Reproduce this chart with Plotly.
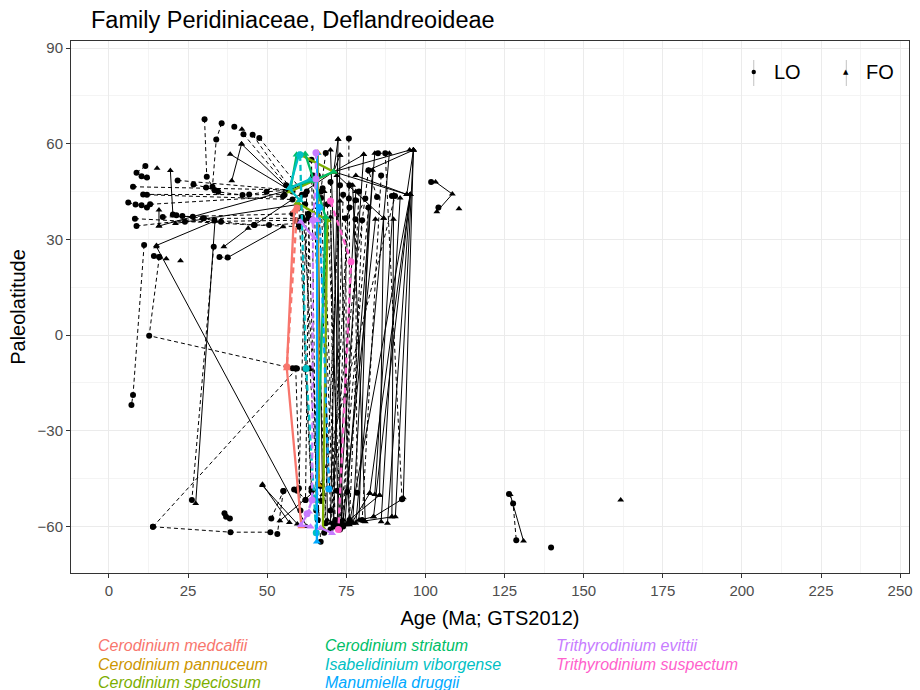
import plotly.graph_objects as go

# ---------------------------------------------------------------
# Black taxa: last occurrences (LO, dashed, circles) and
# first occurrences (FO, solid, triangles); each path = (age, lat) list
# ---------------------------------------------------------------
LO_PATHS = [
    [(30.2, 67.7), (30.9, 49.6), (33.4, 45.4)],
    [(35.6, 66.4), (33.9, 61.3), (32.7, 46.5)],
    [(45.4, 62.8), (58.0, 45.0)],
    [(39.6, 65.3)],
    [(8.7, 50.9), (11.5, 53.0)],
    [(6.1, 41.6), (8.4, 40.9), (10.3, 40.7), (12.0, 40.0)],
    [(7.6, 46.5), (57.0, 45.5)],
    [(10.8, 44.1), (55.5, 44.0)],
    [(10.3, 49.8), (12.0, 49.4)],
    [(8.2, 36.5), (45.9, 34.5), (60.0, 34.0)],
    [(8.7, 34.2), (30.0, 36.6), (63.0, 36.6)],
    [(21.7, 48.5), (57.0, 45.5)],
    [(20.2, 37.8), (21.3, 37.6), (23.2, 37.3), (26.5, 37.1), (29.7, 36.6),
     (33.3, 36.0), (35.4, 35.5), (45.9, 34.5), (50.6, 34.5), (60.0, 35.0)],
    [(26.7, 47.2), (30.7, 46.3), (33.4, 45.4), (34.5, 44.9), (42.2, 43.9),
     (44.3, 44.1), (49.8, 44.9), (57.0, 45.5)],
    [(13.0, 41.0), (55.0, 43.5)],
    [(12.0, 44.0), (58.0, 42.5)],
    [(17.0, 37.0), (58.0, 38.0)],
    [(24.0, 35.5), (59.0, 36.0)],
    [(47.5, 61.8), (62.0, 44.0)],
    [(42.5, 63.0), (56.0, 47.0)],
    [(11.1, 28.2), (7.6, -18.8), (7.1, -21.9)],
    [(15.9, 24.5), (12.7, -0.2), (58.0, -10.4)],
    [(14.2, 24.8), (15.9, 24.5)],
    [(13.9, -60.1), (38.4, -61.8), (51.0, -61.8)],
    [(13.9, -60.1), (59.4, -10.5)],
    [(33.1, 27.7), (26.2, -51.7)],
    [(34.9, 24.5), (37.5, 24.3)],
    [(36.5, -55.9), (37.0, -57.0), (38.2, -57.5)],
    [(55.1, -48.9), (53.2, -62.4)],
    [(51.3, -57.5), (55.1, -48.9)],
    [(58.5, -48.4), (59.5, -48.8), (62.1, -51.7)],
    [(126.4, -49.8), (127.7, -52.8), (128.7, -64.3)],
    [(139.7, -66.6)],
    [(101.8, 48.0)],
    [(104.1, 40.0)],
    [(68.5, 57.1), (66.9, 44.9), (63.2, 36.6), (62.1, -51.7)],
    [(75.8, 61.6), (75.8, 42.8), (72.1, -48.8)],
    [(77.9, 42.3), (74.7, 36.6), (75.3, -49.1), (72.6, -59.5)],
    [(81.0, 42.8), (77.9, 36.3), (78.4, -49.4)],
    [(84.7, 43.3), (82.0, 51.7), (69.5, -48.3)],
    [(85.0, 57.0), (87.3, 57.0), (92.6, -51.5)],
    [(89.4, 43.6), (90.4, 43.6), (66.9, -47.3)],
    [(62.0, 41.0), (63.5, -10.5), (66.9, -64.8)],
    [(64.0, 55.0), (65.5, -55.0)],
    [(70.0, 48.0), (71.0, -59.0)],
    [(66.0, 50.0), (70.0, -55.0)],
    [(73.0, 47.0), (68.0, -62.0)],
    [(60.0, 40.0), (64.0, -48.0)],
    [(79.0, 45.0), (74.0, -60.0)],
    [(76.0, 40.0), (75.8, -59.0)],
    [(61.0, 44.0), (61.5, 36.0), (67.0, -52.0)],
    [(86.0, 50.0), (80.0, -58.0)],
    [(82.0, 40.0), (73.0, -61.0)],
    [(67.5, 46.0), (71.5, -58.0)],
    [(62.5, 45.0), (60.0, -48.0)],
    [(63.0, 38.0), (66.0, -58.0)],
    [(67.0, 43.0), (71.0, -60.0)],
    [(69.0, 41.0), (73.2, -58.5)],
    [(74.0, 44.0), (71.0, -59.5)],
    [(76.0, 47.0), (70.0, -61.0)],
    [(80.0, 36.0), (76.0, -58.0)],
    [(64.5, 50.0), (68.5, -59.0)],
    [(61.0, 37.0), (62.0, -10.6), (64.0, -49.0)],
    [(59.0, -10.4), (60.5, -55.0)],
]

FO_PATHS = [
    [(41.9, 59.9), (38.8, 48.4)],
    [(38.3, 56.7), (57.0, 45.5)],
    [(42.0, 64.5)],
    [(15.2, 52.3)],
    [(11.9, 49.4)],
    [(19.4, 51.6), (20.2, 37.8)],
    [(15.8, 39.2), (15.8, 34.2)],
    [(15.0, 28.1), (33.5, 35.8)],
    [(36.3, 27.7), (44.0, 33.5)],
    [(37.5, 24.3), (55.0, 34.0)],
    [(15.0, 27.7), (62.5, -60.0)],
    [(33.5, 35.8), (27.4, -52.8)],
    [(22.6, 23.3)],
    [(18.1, 23.9)],
    [(41.9, 59.9), (57.5, 45.0)],
    [(45.9, 34.5), (71.0, 51.2)],
    [(15.8, 34.2), (57.0, 45.5)],
    [(21.0, 35.0), (60.0, 41.0)],
    [(71.0, 51.2), (72.4, 61.4)],
    [(71.0, 51.2), (73.0, 56.4)],
    [(71.0, 51.2), (95.0, 58.0)],
    [(71.0, 51.2), (94.1, 44.1)],
    [(71.0, 51.2), (80.5, 56.6)],
    [(71.0, 51.2), (86.8, 36.6)],
    [(71.0, 51.2), (57.0, 45.5)],
    [(96.2, 58.0), (94.1, 44.1)],
    [(96.2, 58.0), (82.0, 51.7)],
    [(96.2, 58.0), (93.0, -51.0)],
    [(95.2, 44.1), (88.0, -59.0)],
    [(95.2, 44.1), (76.0, -59.0)],
    [(95.2, 44.1), (83.6, -57.0)],
    [(94.1, 44.1), (78.0, 50.0)],
    [(95.2, 44.1), (82.4, -49.6)],
    [(89.9, 36.3), (89.4, -57.0)],
    [(86.8, 36.6), (85.5, -50.2)],
    [(84.2, 36.3), (74.0, -58.0)],
    [(88.6, 57.0), (78.0, -59.0)],
    [(80.5, 56.6), (72.6, -59.0)],
    [(73.0, 56.4), (71.0, -60.0)],
    [(72.4, 61.4), (70.0, -59.0)],
    [(68.0, 45.0), (69.0, -58.0)],
    [(66.0, 40.0), (67.5, -50.0)],
    [(70.0, 37.0), (72.5, -59.5)],
    [(72.0, 50.0), (73.5, -60.0)],
    [(83.3, 51.7), (77.0, -59.0)],
    [(78.0, 45.0), (72.0, -60.0)],
    [(72.5, -59.5), (83.6, -57.0), (92.6, -51.5)],
    [(72.5, -59.5), (89.4, -57.0)],
    [(48.5, -46.8), (57.0, -58.8)],
    [(48.5, -47.2), (59.5, -59.2)],
    [(54.0, -58.2), (66.9, -47.3)],
    [(103.2, 48.0), (108.5, 44.2), (103.6, 38.7)],
    [(110.6, 39.6)],
    [(126.8, -50.0), (131.0, -64.6)],
    [(161.7, -51.7)],
    [(76.8, -58.8), (82.4, -49.6)],
    [(74.0, -59.5), (85.5, -50.2)],
    [(82.0, 40.0), (79.0, -58.0)],
    [(92.0, 43.0), (86.0, -58.5)],
    [(70.0, 58.0), (74.0, -58.0)],
    [(73.0, 42.0), (76.0, -59.5)],
    [(77.0, 47.0), (81.0, -58.5)],
    [(84.0, 57.0), (74.5, -59.5)],
    [(90.0, 44.0), (84.0, -50.0)],
    [(96.2, 58.0), (90.5, -57.0)],
]

# ---------------------------------------------------------------
# Highlighted species
# ---------------------------------------------------------------
SPECIES = [
    "Cerodinium medcalfii", "Cerodinium pannuceum", "Cerodinium speciosum",
    "Cerodinium striatum", "Isabelidinium viborgense", "Manumiella druggii",
    "Trithyrodinium evittii", "Trithyrodinium suspectum",
]
COLORS = ["#F8766D", "#CD9600", "#7CAE00", "#00BE67",
          "#00BFC4", "#00A9FF", "#C77CFF", "#FF61CC"]

SPECIES_LO = {
    "Cerodinium medcalfii": [[(59.5, 40.0), (56.2, -9.9)]],
    "Cerodinium pannuceum": [],
    "Cerodinium speciosum": [],
    "Cerodinium striatum": [],
    "Isabelidinium viborgense": [[(60.4, 56.5), (62.3, -10.5), (65.5, -62.0)]],
    "Manumiella druggii": [[(66.5, 40.0), (69.5, -48.3)]],
    "Trithyrodinium evittii": [[(65.4, 57.2), (65.4, 48.9), (64.5, 36.0),
                                (64.2, -51.7), (62.6, -56.0)]],
    "Trithyrodinium suspectum": [[(70.0, 42.0), (76.5, 23.0), (72.5, -61.0)]],
}
SPECIES_FO = {
    "Cerodinium medcalfii": [[(58.5, 39.0), (56.2, -10.5), (60.8, -60.0)]],
    "Cerodinium pannuceum": [[(66.0, 57.2), (66.3, -47.0)]],
    "Cerodinium speciosum": [[(60.6, 56.5), (71.0, 51.2), (57.3, 45.0)],
                             [(59.5, 41.5), (69.0, 36.0), (67.6, -60.5)]],
    "Cerodinium striatum": [[(59.3, 56.5), (57.5, 46.5), (64.2, 48.3), (71.0, 51.2)],
                            [(62.0, 56.8), (68.5, 37.0), (65.5, -52.0)]],
    "Isabelidinium viborgense": [[(60.0, 56.5), (57.0, 46.0), (63.5, 48.8)],
                                 [(57.0, 46.0), (60.3, 42.2)]],
    "Manumiella druggii": [[(65.8, 57.0), (65.7, -64.8)]],
    "Trithyrodinium evittii": [[(60.6, 35.5), (64.8, 30.4)],
                               [(64.2, 36.0), (65.7, 36.0)],
                               [(63.2, -55.4), (60.6, -59.6), (63.7, -60.1)],
                               [(66.9, -60.5), (70.5, -62.1)]],
    "Trithyrodinium suspectum": [],
}

X_TICKS = [0, 25, 50, 75, 100, 125, 150, 175, 200, 225, 250]
Y_TICKS = [-60, -30, 0, 30, 60, 90]


def flatten(paths):
    xs, ys = [], []
    for path in paths:
        for a, l in path:
            xs.append(a)
            ys.append(l)
        xs.append(None)
        ys.append(None)
    return xs, ys


def add_paths(fig, paths, color, dash, symbol, width, msize):
    if not paths:
        return
    xs, ys = flatten(paths)
    fig.add_trace(go.Scatter(
        x=xs, y=ys, mode="lines+markers",
        line=dict(color=color, width=width, dash=dash),
        marker=dict(color=color, symbol=symbol, size=msize, line=dict(width=0)),
        connectgaps=False, showlegend=False, hoverinfo="skip",
    ))


fig = go.Figure()
add_paths(fig, LO_PATHS, "black", "4px,3px", "circle", 1, 6)
add_paths(fig, FO_PATHS, "black", "solid", "triangle-up", 1, 6)
for name, col in zip(SPECIES, COLORS):
    add_paths(fig, SPECIES_LO[name], col, "6px,4px", "circle", 2.3, 7)
    add_paths(fig, SPECIES_FO[name], col, "solid", "triangle-up", 2.3, 7)

FONT = "Liberation Sans, Arial, sans-serif"

axis_common = dict(
    showgrid=True, gridcolor="#EBEBEB", gridwidth=1,
    zeroline=False, showline=True, linecolor="#333333", linewidth=1, mirror=True,
    ticks="outside", ticklen=4, tickcolor="#333333",
    tickfont=dict(family=FONT, size=15, color="#4D4D4D"),
)

fig.update_xaxes(
    range=[-12, 252.8], tickvals=X_TICKS,
    minor=dict(dtick=12.5, tick0=0, showgrid=True, gridcolor="#F4F4F4", ticks=""),
    title=dict(text="Age (Ma; GTS2012)", font=dict(family=FONT, size=20, color="black"),
               standoff=12),
    **axis_common,
)
fig.update_yaxes(
    range=[-74.6, 92.2], tickvals=Y_TICKS,
    ticktext=["\u221260", "\u221230", "0", "30", "60", "90"],
    minor=dict(dtick=15, tick0=0, showgrid=True, gridcolor="#F4F4F4", ticks=""),
    title=dict(text="Paleolatitude", font=dict(family=FONT, size=20, color="black"),
               standoff=6),
    **axis_common,
)

W, H = 920, 690
pl, pr, pt, pb = 71, 913, 41, 573


def px_to_paper(px, py):
    return (px - pl) / (pr - pl), (pb - py) / (pb - pt)


# species legend: coloured italic names in three columns below the axis
col_x = [96, 324, 556]
row_y = [645, 664, 682]
annotations = []
for i, (name, col) in enumerate(zip(SPECIES, COLORS)):
    c, r = divmod(i, 3)
    ax, ay = px_to_paper(col_x[c], row_y[r])
    annotations.append(dict(
        text=f"<i>{name}</i>", x=ax, y=ay,
        xref="paper", yref="paper", xanchor="left", yanchor="middle",
        showarrow=False, font=dict(family=FONT, size=16, color=col),
    ))

# LO / FO key inside the panel
shapes = []
for kx, lab, sym in [(757, "LO", "circle"), (850, "FO", "triangle")]:
    x0, y0 = px_to_paper(kx, 60)
    x1, y1 = px_to_paper(kx, 86)
    shapes.append(dict(type="line", xref="paper", yref="paper",
                       x0=x0, x1=x0, y0=y0, y1=y1,
                       line=dict(color="#999999", width=0.6)))
    tx, ty = px_to_paper(kx + 18, 72)
    annotations.append(dict(text=lab, x=tx, y=ty, xref="paper", yref="paper",
                            xanchor="left", yanchor="middle", showarrow=False,
                            font=dict(family=FONT, size=20, color="black")))
    mx, my = px_to_paper(kx, 72)
    if sym == "circle":
        shapes.append(dict(type="circle", xref="paper", yref="paper",
                           x0=mx - 2.2 / (pr - pl), x1=mx + 2.2 / (pr - pl),
                           y0=my - 2.2 / (pb - pt), y1=my + 2.2 / (pb - pt),
                           fillcolor="black", line=dict(width=0)))
    else:
        annotations.append(dict(text="\u25B2", x=mx, y=my, xref="paper", yref="paper",
                                xanchor="center", yanchor="middle", showarrow=False,
                                font=dict(family="DejaVu Sans", size=7, color="black")))

fig.update_layout(
    width=W, height=H,
    margin=dict(l=pl, r=W - pr, t=pt, b=H - pb),
    paper_bgcolor="white", plot_bgcolor="white",
    title=dict(text="Family Peridiniaceae, Deflandreoideae",
               x=91 / W, xref="container", xanchor="left",
               y=1 - 20 / H, yref="container", yanchor="middle",
               font=dict(family=FONT, size=23.5, color="black")),
    annotations=annotations, shapes=shapes,
    showlegend=False,
)

fig.write_html("out.html")
